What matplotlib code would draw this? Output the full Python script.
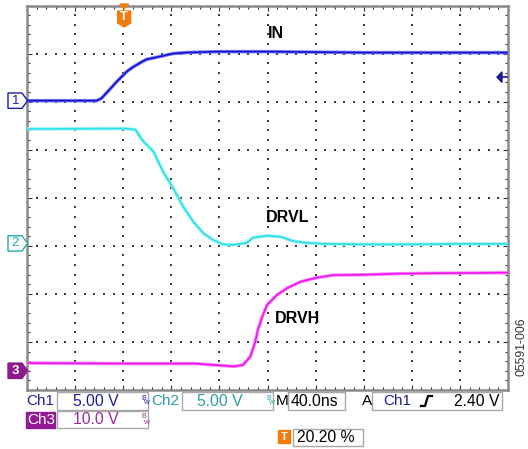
import matplotlib
matplotlib.use("Agg")
import matplotlib.pyplot as plt
import numpy as np
from matplotlib.patches import Rectangle, Polygon, FancyBboxPatch
from matplotlib.transforms import blended_transform_factory

# ---------------- data (divisions) ----------------
in_x = [0, 1.45, 1.55, 1.66, 1.77, 1.87, 1.98, 2.08, 2.19, 2.29, 2.39, 2.49, 2.63, 2.77,
        2.90, 3.04, 3.30, 3.60, 4.0, 5.0, 6.0, 7.0, 8.0, 9.0, 10.0]
in_y = [6.02, 6.02, 6.07, 6.19, 6.31, 6.42, 6.53, 6.63, 6.71, 6.77, 6.83, 6.88, 6.91, 6.94,
        6.97, 7.00, 7.02, 7.03, 7.04, 7.04, 7.03, 7.02, 7.02, 7.02, 7.02]

drvl_x = [0, 2.0, 2.25, 2.42, 2.63, 2.83, 3.04, 3.25, 3.46, 3.67, 3.87, 4.08, 4.28, 4.57,
          4.70, 4.99, 5.26, 5.53, 5.82, 6.2, 7.0, 8.0, 9.0, 10.0]
drvl_y = [5.43, 5.44, 5.42, 5.17, 4.96, 4.54, 4.20, 3.81, 3.50, 3.26, 3.12, 3.03, 3.02, 3.06,
          3.17, 3.21, 3.19, 3.10, 3.06, 3.04, 3.03, 3.03, 3.04, 3.04]

drvh_x = [0, 2.0, 3.5, 4.3, 4.49, 4.64, 4.74, 4.80, 4.89, 4.99, 5.20, 5.41, 5.68, 5.99,
          6.36, 7.07, 7.69, 8.5, 10.0]
drvh_y = [0.56, 0.55, 0.55, 0.49, 0.52, 0.69, 0.98, 1.25, 1.52, 1.77, 1.98, 2.12, 2.25, 2.33,
          2.39, 2.40, 2.42, 2.43, 2.44]

trace_labels = ["IN", "DRVL", "DRVH"]
label_pos = [(5.18, 7.41), (5.41, 3.58), (5.63, 1.49)]
ground_levels = [6.02, 3.05, 0.40]
trigger_pos = 2.02
trigger_level = 6.51

W, H = 528, 449
fig = plt.figure(figsize=(W / 100, H / 100), dpi=100)
fig.patch.set_facecolor("white")

def P(x, y):
    return (x / W, 1 - y / H)

L, T, R, B = 27, 5.5, 508, 390
ax = fig.add_axes([L / W, 1 - B / H, (R - L) / W, (B - T) / H])
ax.set_xlim(0, 10)
ax.set_ylim(0, 8)
ax.set_facecolor("white")

# grid dots
gx, gy = [], []
for xv in range(1, 10):
    for yv in np.arange(0, 8.01, 0.2):
        gx.append(xv); gy.append(yv)
for yv in range(1, 8):
    for xv in np.arange(0, 10.01, 0.2):
        gx.append(xv); gy.append(yv)
ax.scatter(gx, gy, s=1.3, marker="s", color="#3a3a3a", linewidths=0, zorder=1)

# border & ticks
for sp in ax.spines.values():
    sp.set_color("#8a8a8a")
    sp.set_linewidth(1.8)
ax.set_xticks(range(0, 11))
ax.set_yticks(range(0, 9))
ax.set_xticks(np.arange(0, 10.01, 0.2), minor=True)
ax.set_yticks(np.arange(0, 8.01, 0.2), minor=True)
ax.tick_params(which="both", direction="in", top=True, right=True, bottom=True, left=True,
               labelbottom=False, labelleft=False, color="#333333", width=0.8)
ax.tick_params(which="major", length=3.5)
ax.tick_params(which="minor", length=2)

# traces
colors = ["#1414d4", "#2ee0e8", "#f015f0"]
halo = ["#7a7af2", "#9af4f8", "#f88ef8"]
for xs, ys, c, h in [(in_x, in_y, colors[0], halo[0]),
                     (drvl_x, drvl_y, colors[1], halo[1]),
                     (drvh_x, drvh_y, colors[2], halo[2])]:
    ax.plot(xs, ys, color=h, lw=2.5, solid_joinstyle="round", zorder=3)
    ax.plot(xs, ys, color=c, lw=1.2, solid_joinstyle="round", zorder=4)

for lab, (lx, ly) in zip(trace_labels, label_pos):
    ax.text(lx, ly, lab, ha="center", va="center", fontsize=11.5, fontweight="bold",
            family="Liberation Sans", color="black", zorder=5)

# ground markers (left)
tr_left = blended_transform_factory(fig.transFigure, ax.transData)
mk_cols = ["#1c1ca8", "#27a8a8", "#8e1a8e"]
for i, (g, c) in enumerate(zip(ground_levels, mk_cols)):
    x0, x1, xt = 8 / W, 22 / W, 27.5 / W
    hh = 0.16
    poly = Polygon([(x0, g - hh), (x1, g - hh), (xt, g), (x1, g + hh), (x0, g + hh)],
                   closed=True, transform=tr_left, clip_on=False,
                   facecolor=("white" if i < 2 else c), edgecolor=c, lw=1.0)
    fig.add_artist(poly)
    fig.text(15.5 / W, g, str(i + 1), transform=tr_left, ha="center", va="center",
             fontsize=9.5, color=("white" if i == 2 else c), family="Liberation Sans",
             fontweight=("bold" if i == 2 else "normal"))

# trigger level arrow (right)
tr_right = blended_transform_factory(fig.transFigure, ax.transData)
arr = Polygon([(497 / W, trigger_level), (502 / W, trigger_level + 0.11),
               (502 / W, trigger_level - 0.11)], closed=True, transform=tr_right,
              facecolor="#1a1a9a", edgecolor="#1a1a9a", clip_on=False)
fig.add_artist(arr)
fig.add_artist(plt.Line2D([501 / W, 507 / W], [trigger_level, trigger_level],
                          transform=tr_right, color="#1a1a9a", lw=1.2))

# trigger position marker (top)
tr_top = blended_transform_factory(ax.transData, fig.transFigure)
orange = "#f27c0c"
tx = trigger_pos
dx = 6.5 / 48.1
fig.add_artist(Polygon([(tx - 0.09, 1 - 4 / H), (tx + 0.09, 1 - 4 / H), (tx, 1 - 9 / H)],
                       closed=True, transform=tr_top, facecolor=orange, edgecolor=orange,
                       clip_on=False))
fig.add_artist(Polygon([(tx - dx, 1 - 11 / H), (tx + dx, 1 - 11 / H), (tx + dx, 1 - 23 / H),
                        (tx, 1 - 27 / H), (tx - dx, 1 - 23 / H)],
                       closed=True, transform=tr_top, facecolor=orange, edgecolor=orange,
                       clip_on=False))
fig.text(tx, 1 - 17.5 / H, "T", transform=tr_top, ha="center", va="center", color="white",
         fontsize=9, fontweight="bold", family="Liberation Sans")

# ---------------- status bar ----------------
def box(x0, y0, x1, y1, fc="white", ec="#a8a8a8"):
    fig.add_artist(Rectangle(P(x0, y1), (x1 - x0) / W, (y1 - y0) / H, transform=fig.transFigure,
                             facecolor=fc, edgecolor=ec, lw=1.0))

def txt(x, y, s, color="black", ha="left", fs=10.5, **kw):
    fig.text(*P(x, y), s, ha=ha, va="center", color=color, fontsize=fs,
             family="Liberation Sans", **kw)

def bw(x, y, color):
    txt(x, y - 3, "B", color=color, fs=5)
    txt(x + 3, y + 2, "W", color=color, fs=4.5)

ch1c, ch2c, ch3c = "#1e1e96", "#2aa0a0", "#941a94"
ch1_scale = "5.00 V"
ch2_scale = "5.00 V"
ch3_scale = "10.0 V"
timebase = "40.0ns"
trig_src = "Ch1"
trig_lvl = "2.40 V"
trig_pct = "20.20 %"

# row 1
txt(26, 401, "Ch1", ch1c, fs=11)
box(57, 392, 148, 410)
txt(73, 401, ch1_scale, ch1c, fs=11.3)
bw(141, 401, ch1c)
txt(151, 401, "Ch2", ch2c, fs=11)
box(182, 392, 273, 410)
txt(197, 401, ch2_scale, ch2c, fs=11.3)
bw(266, 401, ch2c)
txt(276, 401, "M", "black", fs=11)
box(288, 392, 345, 410)
txt(291, 401, timebase, "black", fs=11.3)
txt(362, 401, "A", "black", fs=11)
box(372, 392, 502, 410)
txt(383, 401, trig_src, ch1c, fs=11)
fig.add_artist(plt.Line2D([x / W for x in [421, 425, 428, 432]],
                          [1 - y / H for y in [406, 406, 396, 396]],
                          transform=fig.transFigure, color="black", lw=1.6))
txt(500, 401, trig_lvl, "black", ha="right", fs=11.3)

# row 2
box(26, 412, 55, 428, fc=ch3c, ec=ch3c)
txt(27.5, 420, "Ch3", "white", fs=11)
box(57, 411, 148, 428)
txt(73, 420, ch3_scale, "#9a2a9a", fs=11.3)
bw(141, 420, "#9a2a9a")

# row 3
fig.add_artist(FancyBboxPatch(P(279, 443), 11 / W, 12 / H, boxstyle="round,pad=0.001",
                              transform=fig.transFigure, facecolor=orange, edgecolor=orange))
fig.text(*P(284.5, 437), "T", ha="center", va="center", color="white", fontsize=8,
         fontweight="bold", family="Liberation Sans")
box(293, 429, 363, 446)
txt(297, 437.5, trig_pct, "black", fs=11.3)

# figure id
fig.text(*P(521.5, 347), "05591-006", rotation=90, ha="center", va="center", fontsize=8.8,
         color="#333333", family="Liberation Sans")

fig.savefig("out.png", dpi=100, facecolor="white")
